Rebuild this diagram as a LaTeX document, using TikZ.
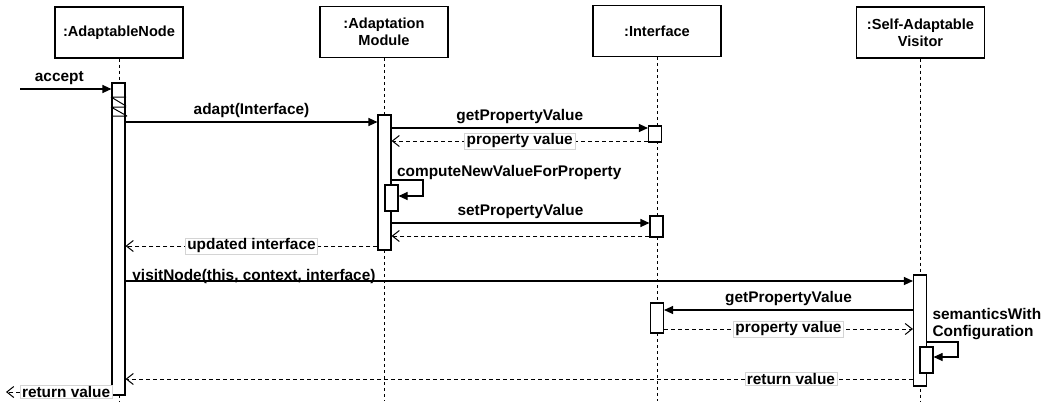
\documentclass[tikz,border=0pt]{standalone}
\usepackage{fontspec}
\setmainfont{Liberation Sans}
\usetikzlibrary{arrows.meta,positioning,calc}
\definecolor{lblframe}{HTML}{D4D4D4}
\newcommand{\actbar}[4]{\node[actbox,minimum height={#4-#3}] (#1) at (#2,{(#3+#4)/2}) {};}
\tikzset{
    lifehead/.style={draw,line width=1.1pt,fill=white,minimum width=128pt,minimum height=51pt,align=center,inner sep=2pt,font=\bfseries\fontsize{14.6}{17}\selectfont},
    lifeline/.style={line width=1pt,dash pattern=on 3pt off 3pt},
    actbox/.style={draw,line width=1.1pt,fill=white,minimum width=13pt,inner sep=0pt},
    msg/.style={line width=1.1pt,-{Triangle[length=9pt,width=8pt]}},
    reply/.style={line width=1pt,dash pattern=on 4pt off 3pt,-{Straight Barb[length=7pt,width=11pt]}},
    msgtext/.style={font=\bfseries\fontsize{15.4}{17}\selectfont,align=left},
    replytext/.style={msgtext,solid,fill=white,draw=lblframe,line width=0.6pt,inner xsep=2pt,inner ysep=1pt},
}

\begin{document}
\begin{tikzpicture}[x=1pt,y=-1pt]
    \useasboundingbox (0,0) rectangle (1043,402);

    \node[lifehead] (hN) at (119,32.5) {:AdaptableNode};
    \node[lifehead] (hM) at (384,32) {:Adaptation\\Module};
    \node[lifehead] (hI) at (657,31) {:Interface};
    \node[lifehead] (hV) at (920.5,32.5) {:Self-Adaptable\\Visitor};
    \foreach \h in {hN,hM,hI,hV}
        \draw[lifeline] (\h.south) -- (\h.south |- 0,401);

    \actbar{aN}{118.5}{83}{395}
    \actbar{aM}{384.5}{115}{250}
    \actbar{aMs}{391.5}{185}{211}
    \actbar{aI1}{655}{126}{142}
    \actbar{aI2}{656.5}{216}{237}
    \actbar{aI3}{657}{303}{333}
    \actbar{aV}{920}{275}{386}
    \actbar{aVs}{926.5}{347}{373}

    \draw[line width=1pt] (111,97) -- (126,97) (111,97) -- (126,106)
        (111,107) -- (126,107) (111,107) -- (127,116) (111,116) -- (127,116);

    \coordinate (acc0) at (20,89);
    \coordinate (ret0) at (6,392);

    \draw[msg] (acc0) -- (aN.west |- acc0) node[msgtext,pos=0.43,above] {accept};
    \draw[msg] (aN.east |- 0,122) -- (aM.west |- 0,122) node[msgtext,midway,above] {adapt(Interface)};
    \draw[msg] (aM.east |- 0,128) -- (aI1.west |- 0,128) node[msgtext,midway,above] {getPropertyValue};
    \draw[reply] (aI1.west |- 0,141) -- (aM.east |- 0,141) node[replytext,midway] {property value};
    \draw[msg] (aM.east |- 0,180)
        node[msgtext,anchor=base west,inner sep=0pt,xshift=5pt,yshift=4pt] {computeNewValueForProperty}
        -- (423,180) -- (423,196) -- (aMs.east |- 0,196);
    \draw[msg] (aM.east |- 0,223) -- (aI2.west |- 0,223) node[msgtext,midway,above] {setPropertyValue};
    \draw[reply] (aI2.west |- 0,236) -- (aM.east |- 0,236);
    \draw[reply] (aM.west |- 0,246) -- (aN.east |- 0,246) node[replytext,midway] {updated interface};
    \draw[msg] (aN.east |- 0,281) -- (aV.west |- 0,281)
        node[msgtext,at start,anchor=base west,xshift=3pt,yshift=1pt] {visitNode(this, context, interface)};
    \draw[msg] (aV.west |- 0,310) -- (aI3.east |- 0,310) node[msgtext,midway,above] {getPropertyValue};
    \draw[reply] (aI3.east |- 0,329) -- (aV.west |- 0,329) node[replytext,midway] {property value};
    \draw[msg] (aV.east |- 0,342)
        node[msgtext,anchor=south west,inner sep=0pt,xshift=5pt,yshift=2pt] {semanticsWith\\Configuration}
        -- (958,342) -- (958,357) -- (aVs.east |- 0,357);
    \draw[reply] (aV.west |- 0,379) -- (aN.east |- 0,379) node[replytext,pos=0.155] {return value};
    \draw[reply] (aN.west |- ret0) -- (ret0) node[replytext,pos=0.43] {return value};
\end{tikzpicture}
\end{document}
